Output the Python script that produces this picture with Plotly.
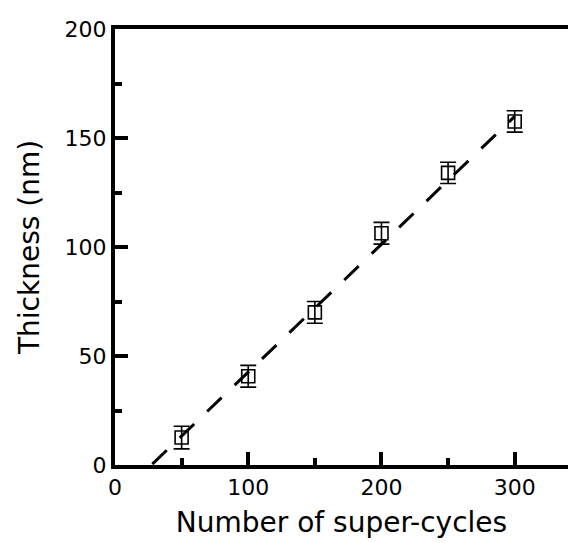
import plotly.graph_objects as go

# Data
cycles = [50, 100, 150, 200, 250, 300]
thickness = [12.6, 40.7, 70.0, 106.3, 134.0, 157.6]
thickness_err = [5.2, 5.0, 5.0, 5.0, 4.9, 4.9]
fit_x = [28, 300]
fit_y = [0.4, 159.9]

x_ticks = [0, 100, 200, 300]
y_ticks = [0, 50, 100, 150, 200]

FONT = "DejaVu Sans, sans-serif"

fig = go.Figure()
fig.add_trace(go.Scatter(
    x=fit_x, y=fit_y, mode="lines",
    line=dict(color="black", width=3, dash="20px,18px"),
    showlegend=False, hoverinfo="skip",
))
fig.add_trace(go.Scatter(
    x=cycles, y=thickness, mode="markers",
    marker=dict(symbol="square-open", size=13, color="black", line=dict(width=1.6, color="black")),
    error_y=dict(type="data", array=thickness_err, visible=True, color="black", thickness=1.6, width=8),
    showlegend=False,
))

fig.update_layout(
    width=568, height=543,
    margin=dict(l=115, r=0, t=29, b=78),
    plot_bgcolor="white", paper_bgcolor="white",
    font=dict(family=FONT, size=22, color="black"),
    showlegend=False,
)
fig.update_xaxes(
    range=[0, 340], tickvals=x_ticks, ticktext=[str(v) for v in x_ticks],
    showgrid=False, zeroline=False,
    showline=True, linewidth=4, linecolor="black", mirror=True,
    ticks="inside", ticklen=13, tickwidth=4, tickcolor="black",
    minor=dict(dtick=50, tick0=0, ticks="inside", ticklen=7, tickwidth=4, tickcolor="black", showgrid=False),
    tickfont=dict(size=22),
    title=dict(text="Number of super-cycles", font=dict(size=28), standoff=14),
)
fig.update_yaxes(
    range=[0, 200], tickvals=y_ticks, ticktext=[str(v) for v in y_ticks],
    showgrid=False, zeroline=False,
    showline=True, linewidth=4, linecolor="black", mirror=False,
    ticks="inside", ticklen=13, tickwidth=4, tickcolor="black",
    minor=dict(dtick=25, tick0=0, ticks="inside", ticklen=7, tickwidth=4, tickcolor="black", showgrid=False),
    tickfont=dict(size=22),
    title=dict(text="Thickness (nm)", font=dict(size=28), standoff=18),
)

fig.write_html("out.html")
